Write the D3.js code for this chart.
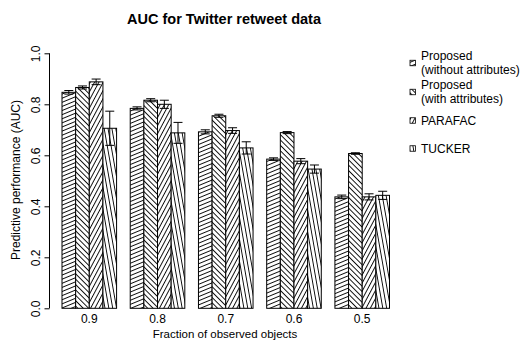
<!DOCTYPE html>
<html>
<head>
<meta charset="utf-8">
<script src="https://cdn.jsdelivr.net/npm/d3@7"></script>
<style>
  html, body { margin: 0; padding: 0; background: #fff; }
  svg { display: block; font-family: "Liberation Sans", Arial, Helvetica, sans-serif; }
</style>
</head>
<body>
<svg id="chart" width="525" height="340"></svg>
<script>
// ---- data ----
const categories = ["0.9", "0.8", "0.7", "0.6", "0.5"];
const seriesNames = ["Proposed (without attributes)", "Proposed (with attributes)", "PARAFAC", "TUCKER"];
const legendLines = [["Proposed", "(without attributes)"], ["Proposed", "(with attributes)"], ["PARAFAC"], ["TUCKER"]];
const withoutAttr    = [0.847, 0.784, 0.692, 0.585, 0.437];
const withoutAttrErr = [0.007, 0.006, 0.008, 0.005, 0.007];
const withAttr       = [0.866, 0.816, 0.755, 0.689, 0.607];
const withAttrErr    = [0.006, 0.006, 0.006, 0.004, 0.003];
const parafac        = [0.888, 0.800, 0.697, 0.577, 0.437];
const parafacErr     = [0.011, 0.016, 0.011, 0.010, 0.012];
const tucker         = [0.706, 0.688, 0.629, 0.546, 0.443];
const tuckerErr      = [0.067, 0.041, 0.024, 0.016, 0.016];
const yTicks = [0, 0.2, 0.4, 0.6, 0.8, 1.0];

const values = [withoutAttr, withAttr, parafac, tucker];
const errors = [withoutAttrErr, withAttrErr, parafacErr, tuckerErr];
const hatchAngles = [22.5, 135, 62, 100];
const hatchSpacing = 3.8;

const svg = d3.select("#chart");

// ---- scales ----
const x0 = d3.scaleBand().domain(categories).range([62, 389.5]).paddingInner(0.2).paddingOuter(0);
const x1 = d3.scaleBand().domain(d3.range(seriesNames.length)).range([0, x0.bandwidth()]).padding(0);
const y = d3.scaleLinear().domain([0, 1]).range([308.3, 53.3]);

// ---- hatch patterns ----
const defs = svg.append("defs");
hatchAngles.forEach((a, i) => {
  const p = defs.append("pattern")
    .attr("id", "hatch" + i)
    .attr("patternUnits", "userSpaceOnUse")
    .attr("width", hatchSpacing)
    .attr("height", hatchSpacing)
    .attr("patternTransform", `rotate(${-a})`);
  p.append("rect").attr("width", hatchSpacing).attr("height", hatchSpacing).attr("fill", "#fff");
  p.append("rect").attr("x", 0).attr("y", 0).attr("width", hatchSpacing).attr("height", 0.9).attr("fill", "#000");
});

// ---- bars ----
const rows = [];
categories.forEach((c, ci) => {
  seriesNames.forEach((s, si) => {
    rows.push({ cat: c, si: si, v: values[si][ci], e: errors[si][ci] });
  });
});

const g = svg.append("g");
g.selectAll("rect.bar").data(rows).enter().append("rect")
  .attr("class", "bar")
  .attr("x", d => x0(d.cat) + x1(d.si))
  .attr("y", d => y(d.v))
  .attr("width", x1.bandwidth())
  .attr("height", d => y(0) - y(d.v))
  .attr("fill", d => `url(#hatch${d.si})`)
  .attr("stroke", "#000")
  .attr("stroke-width", 1);

// ---- error bars ----
const capW = x1.bandwidth() * 0.66;
const eb = g.selectAll("g.err").data(rows).enter().append("g").attr("class", "err")
  .attr("stroke", "#000").attr("stroke-width", 1);
eb.append("line")
  .attr("x1", d => x0(d.cat) + x1(d.si) + x1.bandwidth() / 2)
  .attr("x2", d => x0(d.cat) + x1(d.si) + x1.bandwidth() / 2)
  .attr("y1", d => y(d.v - d.e))
  .attr("y2", d => y(d.v + d.e));
[(d) => d.v - d.e, (d) => d.v + d.e].forEach(fn => {
  eb.append("line")
    .attr("x1", d => x0(d.cat) + x1(d.si) + x1.bandwidth() / 2 - capW / 2)
    .attr("x2", d => x0(d.cat) + x1(d.si) + x1.bandwidth() / 2 + capW / 2)
    .attr("y1", d => y(fn(d)))
    .attr("y2", d => y(fn(d)));
});

// ---- y axis ----
const yAxis = d3.axisLeft(y).tickValues(yTicks).tickFormat(d3.format(".1f")).tickSize(5).tickSizeOuter(0);
const ya = svg.append("g").attr("transform", "translate(49.5,0)").call(yAxis);
ya.select(".domain").attr("stroke", "#000");
ya.selectAll(".tick line").attr("stroke", "#000");
ya.selectAll(".tick text")
  .attr("font-size", 12)
  .attr("fill", "#000")
  .attr("x", 0).attr("dy", 0)
  .attr("transform", "translate(-14,0) rotate(-90)")
  .attr("text-anchor", "middle")
  .attr("dominant-baseline", "central");
ya.select(".domain").attr("d", `M0,${y(0)}V${y(1)}`);

// ---- x labels ----
svg.append("g").selectAll("text").data(categories).enter().append("text")
  .attr("x", d => x0(d) + x0.bandwidth() / 2)
  .attr("y", 323)
  .attr("text-anchor", "middle")
  .attr("font-size", 12)
  .text(d => d);

// ---- titles ----
svg.append("text").attr("x", 224).attr("y", 24).attr("text-anchor", "middle")
  .attr("font-size", 14.5).attr("font-weight", "bold").text("AUC for Twitter retweet data");
svg.append("text").attr("x", 225).attr("y", 337.5).attr("text-anchor", "middle")
  .attr("font-size", 11.5).text("Fraction of observed objects");
svg.append("text").attr("transform", "translate(20,180) rotate(-90)").attr("text-anchor", "middle")
  .attr("font-size", 12).text("Predictive performance (AUC)");

// ---- legend ----
const legendY = [63, 92, 120.5, 148.5];
const lg = svg.append("g").selectAll("g").data(legendLines).enter().append("g")
  .attr("transform", (d, i) => `translate(0,${legendY[i]})`);
lg.append("rect").attr("x", 410).attr("y", -2.75).attr("width", 5.5).attr("height", 5.5)
  .attr("fill", (d, i) => `url(#hatch${i})`).attr("stroke", "#000").attr("stroke-width", 0.8);
lg.each(function(lines) {
  const sel = d3.select(this);
  const n = lines.length;
  lines.forEach((t, k) => {
    sel.append("text").attr("x", 421)
      .attr("y", (k - (n - 1) / 2) * 13.5)
      .attr("dominant-baseline", "central")
      .attr("font-size", 12).text(t);
  });
});
</script>
</body>
</html>
